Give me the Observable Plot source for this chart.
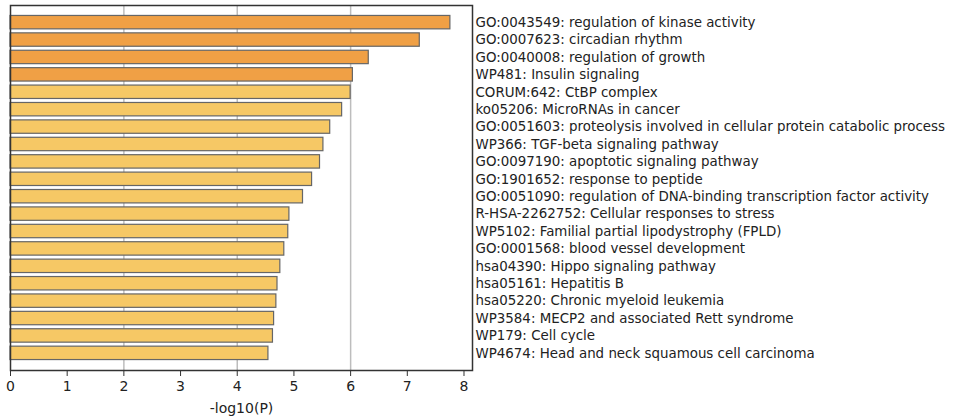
<!DOCTYPE html>
<html>
<head>
<meta charset="utf-8">
<script src="https://cdn.jsdelivr.net/npm/d3@7"></script>
<script src="https://cdn.jsdelivr.net/npm/@observablehq/plot@0.6"></script>
<style>
  html, body { margin: 0; padding: 0; background: #fff; }
  #chart svg { display: block; }
</style>
</head>
<body>
<div id="chart"></div>
<script>
const terms = [
  "GO:0043549: regulation of kinase activity",
  "GO:0007623: circadian rhythm",
  "GO:0040008: regulation of growth",
  "WP481: Insulin signaling",
  "CORUM:642: CtBP complex",
  "ko05206: MicroRNAs in cancer",
  "GO:0051603: proteolysis involved in cellular protein catabolic process",
  "WP366: TGF-beta signaling pathway",
  "GO:0097190: apoptotic signaling pathway",
  "GO:1901652: response to peptide",
  "GO:0051090: regulation of DNA-binding transcription factor activity",
  "R-HSA-2262752: Cellular responses to stress",
  "WP5102: Familial partial lipodystrophy (FPLD)",
  "GO:0001568: blood vessel development",
  "hsa04390: Hippo signaling pathway",
  "hsa05161: Hepatitis B",
  "hsa05220: Chronic myeloid leukemia",
  "WP3584: MECP2 and associated Rett syndrome",
  "WP179: Cell cycle",
  "WP4674: Head and neck squamous cell carcinoma"
];
const values = [7.76, 7.22, 6.32, 6.04, 6.00, 5.85, 5.64, 5.52, 5.46, 5.32, 5.16, 4.92, 4.90, 4.83, 4.76, 4.71, 4.69, 4.65, 4.63, 4.55];
const groups = ["top","top","top","top","other","other","other","other","other","other","other","other","other","other","other","other","other","other","other","other"];
const xTicks = [0, 1, 2, 3, 4, 5, 6, 7, 8];
const gridTicks = [2, 4, 6];

const data = terms.map((t, i) => ({term: t, value: values[i], group: groups[i]}));

const chart = Plot.plot({
  width: 968,
  height: 420,
  marginLeft: 10,
  marginRight: 496,
  marginTop: 5,
  marginBottom: 50,
  style: {fontFamily: "DejaVu Sans, sans-serif", fontSize: "13px", color: "#222", background: "#fff"},
  x: {domain: [0, 8.15], ticks: xTicks},
  y: {domain: terms, type: "band", paddingInner: 0.23, paddingOuter: 0.6, round: false},
  color: {domain: ["top", "other"], range: ["#F0A045", "#F6C865"]},
  marks: [
    Plot.ruleX(gridTicks, {stroke: "#bdbdbd", strokeWidth: 1.5}),
    Plot.barX(data, {x: "value", y: "term", fill: "group", stroke: "#666", strokeWidth: 1.2}),
    Plot.axisY({anchor: "right", tickSize: 0, tickPadding: 3, label: null, fontSize: 13.4}),
    Plot.axisX({ticks: xTicks, tickSize: 6, tickPadding: 5, tickFormat: d3.format("d"), label: "-log10(P)", labelAnchor: "center", labelArrow: "none", labelOffset: 42, fontSize: 14, stroke: "#333"}),
    Plot.frame({stroke: "#333", strokeWidth: 1.5})
  ]
});
document.getElementById("chart").appendChild(chart);
</script>
</body>
</html>
